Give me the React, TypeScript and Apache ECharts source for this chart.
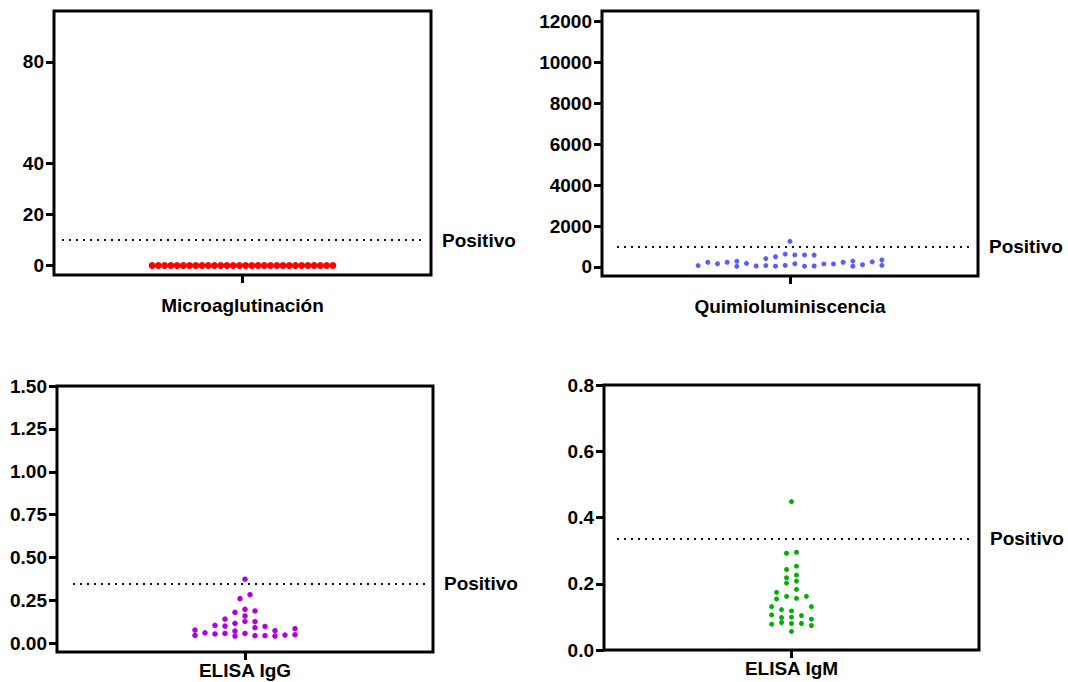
import React, { useEffect, useRef } from "react";
import * as echarts from "echarts";

// ---- data (column index in the dot swarm, measured value) ----
const microCols = [-14.5, -13.5, -12.5, -11.5, -10.5, -9.5, -8.5, -7.5, -6.5, -5.5, -4.5, -3.5, -2.5, -1.5, -0.5, 0.5, 1.5, 2.5, 3.5, 4.5, 5.5, 6.5, 7.5, 8.5, 9.5, 10.5, 11.5, 12.5, 13.5, 14.5];
const microVals = [0, 0, 0, 0, 0, 0, 0, 0, 0, 0, 0, 0, 0, 0, 0, 0, 0, 0, 0, 0, 0, 0, 0, 0, 0, 0, 0, 0, 0, 0];

const quimioCols = [-9.5, -8.5, -7.5, -6.5, -5.5, -5.5, -4.5, -3.5, -2.5, -2.5, -1.5, -1.5, -0.5, -0.5, 0, 0.5, 0.5, 1.5, 1.5, 2.5, 2.5, 3.5, 4.5, 5.5, 6.5, 6.5, 7.5, 8.5, 9.5, 9.5];
const quimioVals = [70, 230, 160, 230, 280, 30, 180, 50, 410, 70, 500, 40, 630, 80, 1250, 590, 160, 590, 40, 580, 50, 150, 150, 230, 290, 40, 110, 250, 340, 80];

const iggCols = [-5, -5, -4, -3, -3, -2, -2, -2, -1, -1, -1, -1, -0.5, 0, 0, 0, 0, 0, 0.5, 1, 1, 1, 1, 2, 2, 3, 3, 4, 5, 5];
const iggVals = [0.078, 0.047, 0.062, 0.105, 0.055, 0.142, 0.101, 0.058, 0.181, 0.117, 0.072, 0.043, 0.261, 0.374, 0.199, 0.16, 0.129, 0.058, 0.284, 0.189, 0.127, 0.092, 0.045, 0.099, 0.045, 0.074, 0.043, 0.049, 0.086, 0.051];

const igmCols = [-4, -4, -4, -3, -3, -2, -2, -2, -1, -1, -1, -1, -1, 0, 0, 0, 0, 0, 1, 1, 1, 1, 1, 1, 2, 2, 3, 4, 4, 4];
const igmVals = [0.131, 0.106, 0.078, 0.174, 0.154, 0.122, 0.098, 0.083, 0.292, 0.243, 0.218, 0.202, 0.162, 0.448, 0.118, 0.099, 0.08, 0.056, 0.295, 0.253, 0.226, 0.208, 0.183, 0.156, 0.104, 0.08, 0.162, 0.131, 0.093, 0.074];

const categories = ["Microaglutinación", "Quimioluminiscencia", "ELISA IgG", "ELISA IgM"];
const cutoffs = [10, 1000, 0.35, 0.336];
const cutoffLabel = "Positivo";
const microTicks = [0, 20, 40, 80];
const quimioTicks = [0, 2000, 4000, 6000, 8000, 10000, 12000];
const iggTicks = [0, 0.25, 0.5, 0.75, 1, 1.25, 1.5];
const igmTicks = [0, 0.2, 0.4, 0.6, 0.8];

const FONT = "'Liberation Sans', Arial, sans-serif";
const FS = 19;

const panels = [
  { cols: microCols, vals: microVals, ticks: microTicks, dec: 0, color: "#ff0000", size: 7, spacing: 6.23,
    left: 54, top: 11, width: 377, height: 264, min: -3.7, max: 100, lineStart: 8, labelMargin: 21 },
  { cols: quimioCols, vals: quimioVals, ticks: quimioTicks, dec: 0, color: "#5b5bff", size: 5, spacing: 9.67,
    left: 602, top: 11, width: 376, height: 265, min: -440, max: 12500, lineStart: 15, labelMargin: 21 },
  { cols: iggCols, vals: iggVals, ticks: iggTicks, dec: 2, color: "#b000e0", size: 5.5, spacing: 10,
    left: 57, top: 386, width: 376, height: 266, min: -0.05, max: 1.5, lineStart: 16, labelMargin: 9 },
  { cols: igmCols, vals: igmVals, ticks: igmTicks, dec: 1, color: "#00b000", size: 5, spacing: 4.975,
    left: 604, top: 385, width: 375, height: 265, min: 0, max: 0.8, lineStart: 13, labelMargin: 9 },
];

export default function App() {
  const ref = useRef<HTMLDivElement>(null);
  useEffect(() => {
    document.body.style.margin = "0";
    const chart = echarts.init(ref.current!, null, { renderer: "svg" });
    const grid: any[] = [];
    const xAxis: any[] = [];
    const yAxis: any[] = [];
    const series: any[] = [];
    panels.forEach((p, i) => {
      const half = p.width / 2;
      grid.push({ left: p.left, top: p.top, width: p.width, height: p.height, show: true,
        borderColor: "#000", borderWidth: 3, backgroundColor: "transparent" });
      xAxis.push({
        type: "value", gridIndex: i, min: -half, max: half, position: "bottom",
        axisLine: { show: false, onZero: false }, splitLine: { show: false },
        axisTick: { show: true, customValues: [0], length: 8, lineStyle: { color: "#000", width: 3 } },
        axisLabel: { show: true, customValues: [0], formatter: () => categories[i], margin: p.labelMargin,
          fontSize: FS, fontWeight: "bold", color: "#000", fontFamily: FONT },
      });
      yAxis.push({
        type: "value", gridIndex: i, min: p.min, max: p.max, position: "left",
        axisLine: { show: false, onZero: false }, splitLine: { show: false },
        axisTick: { show: true, customValues: p.ticks, length: 8, lineStyle: { color: "#000", width: 3 } },
        axisLabel: { show: true, customValues: p.ticks, margin: 10,
          formatter: (v: number) => v.toFixed(p.dec),
          fontSize: FS, fontWeight: "bold", color: "#000", fontFamily: FONT },
      });
      series.push({
        type: "scatter", xAxisIndex: i, yAxisIndex: i,
        data: p.cols.map((c, k) => [c * p.spacing, p.vals[k]]),
        symbol: "circle", symbolSize: p.size,
        itemStyle: { color: p.color, opacity: 1 },
        markLine: {
          silent: true, symbol: ["none", "none"],
          lineStyle: { type: [2, 5], width: 2, color: "#111" },
          label: { show: true, position: "end", distance: 17, formatter: cutoffLabel,
            fontSize: FS, fontWeight: "bold", color: "#000", fontFamily: FONT },
          data: [[{ coord: [-half + p.lineStart, cutoffs[i]] }, { coord: [half - 6, cutoffs[i]] }]],
        },
      });
    });
    chart.setOption({ animation: false, grid, xAxis, yAxis, series });
    return () => chart.dispose();
  }, []);
  return <div ref={ref} style={{ width: 1068, height: 682 }} />;
}
